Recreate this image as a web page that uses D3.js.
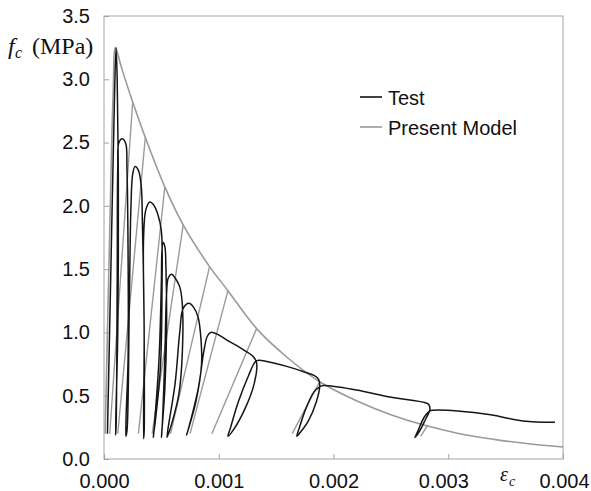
<!DOCTYPE html>
<html>
<head>
<meta charset="utf-8">
<script src="https://cdn.jsdelivr.net/npm/d3@7"></script>
<style>
  html, body { margin: 0; padding: 0; background: #fff; }
  svg { display: block; }
</style>
</head>
<body>
<svg id="chart" width="591" height="491"></svg>
<script>
// ---------------- data ----------------
const xTicks = [0, 0.001, 0.002, 0.003, 0.004];
const yTicks = [0, 0.5, 1.0, 1.5, 2.0, 2.5, 3.0, 3.5];

// Test curve (strain, stress in MPa), one continuous cyclic record
const testStrain = [
  0.00003,0.00006,0.00009,0.000105,0.000115,0.000125,0.00012,0.0001,
  0.000105,0.000115,0.00012,0.00013,0.00016,0.00019,0.0002,0.00021,0.00021,0.00019,
  0.0002,0.00022,0.000235,0.00025,0.00027,0.0003,0.000325,0.000335,0.00035,0.000345,
  0.00035,0.00035,0.000345,0.000365,0.0004,0.00043,0.00047,0.0005,0.000505,0.00049,0.00043,
  0.000435,0.00048,0.0005,0.000505,0.000515,0.00053,0.00054,0.000545,0.00053,0.0005,
  0.000505,0.00053,0.000545,0.00056,0.00059,0.00062,0.00066,0.00068,0.000685,0.00065,0.00055,
  0.000555,0.00062,0.00066,0.00069,0.00074,0.00078,0.00082,0.00084,0.00085,0.0008,0.00072,
  0.00073,0.00082,0.00087,0.0009,0.00093,0.001,0.00107,0.00115,0.00122,0.0013,0.00133,
  0.00131,0.00123,0.00112,0.00108,0.0011,0.00117,0.00126,0.00132,
  0.00135,0.00147,0.0016,0.00174,0.00183,0.00187,0.00188,
  0.00185,0.00178,0.00171,0.00168,0.0017,0.00176,0.00183,0.00188,
  0.00191,0.0022,0.00249,0.0028,0.00283,0.00284,
  0.0028,0.00275,0.00271,0.00273,0.00279,0.00284,
  0.00287,0.00308,0.00337,0.00365,0.00393
];
const testStress = [
  0.20,1.50,2.80,3.25,3.00,2.20,1.00,0.19,
  0.25,1.40,2.30,2.50,2.53,2.49,2.30,1.60,0.80,0.18,
  0.22,1.20,2.00,2.25,2.31,2.28,2.15,1.85,1.00,0.16,
  0.22,1.00,1.75,1.97,2.03,2.01,1.93,1.80,1.30,0.70,0.17,
  0.22,0.80,1.40,1.64,1.71,1.68,1.50,1.00,0.55,0.17,
  0.22,0.80,1.30,1.43,1.46,1.43,1.36,1.25,0.90,0.50,0.17,
  0.22,0.60,1.00,1.19,1.23,1.20,1.12,1.00,0.75,0.45,0.19,
  0.22,0.55,0.85,0.97,1.00,0.98,0.94,0.90,0.86,0.81,0.76,
  0.60,0.40,0.22,0.18,0.24,0.45,0.66,0.77,
  0.78,0.76,0.73,0.69,0.66,0.63,0.58,
  0.45,0.30,0.21,0.18,0.24,0.40,0.53,0.57,
  0.58,0.545,0.49,0.445,0.43,0.39,
  0.31,0.22,0.17,0.21,0.33,0.38,
  0.385,0.38,0.35,0.30,0.29
];

// Present model: envelope curve
const modelStrain = [0.00001,0.00005,0.00008,0.0001,0.00015,0.00025,0.00036,0.00053,0.00069,
  0.00092,0.00108,0.00133,0.0016,0.00188,0.0022,0.0025,0.00278,0.0031,0.0034,0.0037,0.004];
const modelStress = [0.2,1.8,2.9,3.25,3.1,2.82,2.54,2.15,1.85,
  1.52,1.33,1.03,0.8,0.61,0.46,0.35,0.27,0.2,0.155,0.12,0.095];

// Present model: unloading / reloading lines
const unloadStrainTop    = [0.00025,0.00036,0.00053,0.00069,0.00092,0.00108,0.00133,0.00188,0.00282];
const unloadStressTop    = [2.82,2.54,2.15,1.85,1.52,1.33,1.03,0.61,0.265];
const unloadStrainBottom = [0.00005,0.00012,0.0003,0.00042,0.00058,0.00075,0.00094,0.00164,0.00276];
const unloadStressBottom = [0.2,0.2,0.2,0.2,0.2,0.2,0.2,0.2,0.18];

const legendLabels = ["Test", "Present Model"];

// ---------------- drawing ----------------
const svg = d3.select("#chart");
const W = 591, H = 491;
const m = {left: 104, top: 16, right: 28, bottom: 32};
const pw = W - m.left - m.right, ph = H - m.top - m.bottom;

const x = d3.scaleLinear().domain([0, 0.004]).range([0, pw]);
const y = d3.scaleLinear().domain([0, 3.5]).range([ph, 0]);

const g = svg.append("g").attr("transform", `translate(${m.left},${m.top})`);

const sans = "'Liberation Sans', Arial, sans-serif";
const serif = "'Liberation Serif', 'Times New Roman', serif";
const axisColor = "#a3a3a3";
const testColor = "#151515";
const modelColor = "#9a9a9a";

// axes
const yAxis = g.append("g")
  .call(d3.axisLeft(y).tickValues(yTicks).tickFormat(d3.format(".1f")).tickSize(-5).tickPadding(14));
const xAxis = g.append("g").attr("transform", `translate(0,${ph})`)
  .call(d3.axisBottom(x).tickValues(xTicks).tickFormat(d3.format(".3f")).tickSize(-5).tickPadding(15));
[yAxis, xAxis].forEach(a => {
  a.select(".domain").remove();
  a.selectAll(".tick line").attr("stroke", axisColor);
  a.selectAll(".tick text").style("font-size", "20px").style("fill", "#111")
    .style("font-family", sans);
});
xAxis.selectAll(".tick text").attr("dx", d => d === 0.003 ? -5 : (d === 0.004 ? 1 : 0));

// frame
g.append("rect").attr("x", 0).attr("y", 0).attr("width", pw).attr("height", ph)
  .attr("fill", "none").attr("stroke", axisColor).attr("stroke-width", 1);

// model unloading lines
g.append("g").selectAll("line").data(unloadStrainTop).join("line")
  .attr("x1", (d, i) => x(unloadStrainBottom[i]))
  .attr("y1", (d, i) => y(unloadStressBottom[i]))
  .attr("x2", (d, i) => x(d))
  .attr("y2", (d, i) => y(unloadStressTop[i]))
  .attr("stroke", modelColor).attr("stroke-width", 1.4);

// model envelope
const line = d3.line().x(d => x(d[0])).y(d => y(d[1])).curve(d3.curveCatmullRom.alpha(0.5));
g.append("path").datum(modelStrain.map((s, i) => [s, modelStress[i]]))
  .attr("d", line).attr("fill", "none").attr("stroke", modelColor).attr("stroke-width", 1.6);

// test curve
g.append("path").datum(testStrain.map((s, i) => [s, testStress[i]]))
  .attr("d", line).attr("fill", "none").attr("stroke", testColor).attr("stroke-width", 1.5)
  .attr("stroke-linejoin", "round");

// legend
const lg = svg.append("g");
[testColor, modelColor].forEach((c, i) => {
  const yy = 97 + i * 30;
  lg.append("line").attr("x1", 360).attr("x2", 382).attr("y1", yy).attr("y2", yy)
    .attr("stroke", c).attr("stroke-width", 1.6);
  lg.append("text").attr("x", 388).attr("y", yy + 8)
    .style("font-family", sans).style("font-size", "20px").style("fill", "#111")
    .text(legendLabels[i]);
});

// axis labels
function lab(xp, yp, size, italic, family, txt) {
  svg.append("text").attr("x", xp).attr("y", yp)
    .style("font-family", family).style("font-size", size + "px")
    .style("font-style", italic ? "italic" : "normal").style("fill", "#111").text(txt);
}
lab(8, 54, 24, true, serif, "f");
lab(15, 58, 16, true, serif, "c");
lab(32, 54, 24, false, serif, "(MPa)");
lab(500, 481, 20, true, serif, "ε");
lab(509, 486, 14, true, serif, "c");
</script>
</body>
</html>
